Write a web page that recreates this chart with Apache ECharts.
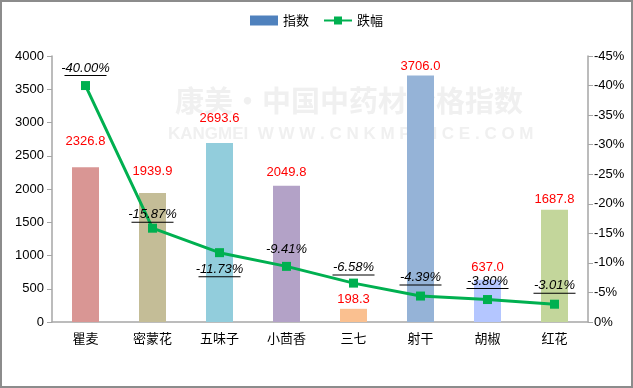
<!DOCTYPE html>
<html><head><meta charset="utf-8">
<script src="https://cdn.jsdelivr.net/npm/echarts@6/dist/echarts.min.js"></script>
<style>
html,body{margin:0;padding:0;background:#fff;}
#frame{position:absolute;left:0;top:0;width:629px;height:384px;border:2px solid #8c8c8c;}
#c{position:absolute;left:0;top:0;width:633px;height:388px;}
</style></head>
<body><div id="frame"></div><div id="c"></div>
<script>
const categories = ['瞿麦','密蒙花','五味子','小茴香','三七','射干','胡椒','红花'];
const indexValues = [2326.8, 1939.9, 2693.6, 2049.8, 198.3, 3706.0, 637.0, 1687.8];
const dropValues = [40.00, 15.87, 11.73, 9.41, 6.58, 4.39, 3.80, 3.01];
const leftTicks = {min:0, max:4000, interval:500};
const rightTicks = {min:0, max:45, interval:5};

const barColors = ['#D99694','#C4BD97','#92CDDC','#B3A2C7','#FAC090','#95B3D7','#B4C6FF','#C3D69B'];
const barLabelDist = [19,15,18,7,3,3,6,4];
const linePos = ['top','top','bottom','top','top','top','top','top'];
const lineDist = [5,1,5,4,3,6,6,6];
const lineUnderline = [true,true,true,false,true,true,true,true];
const font = '"Liberation Sans","DejaVu Sans","Noto Sans CJK SC",sans-serif';

const chart = echarts.init(document.getElementById('c'));
chart.setOption({
  animation:false,
  textStyle:{fontFamily:font},
  graphic:[
    {type:'text',left:175,top:86,style:{text:'康美·中国中药材价格指数',fill:'#f0f0f0',font:'bold 29px "Noto Sans CJK SC",sans-serif'},z:-10},
    {type:'text',left:168,top:126,style:{text:'KANGMEI  W W W . C N K M P R I C E . C O M',fill:'#f0f0f0',font:'bold 17px "Liberation Sans",sans-serif'},z:-10}
  ],
  legend:{
    top:9,left:'center',itemWidth:28,itemHeight:10,itemGap:14,
    textStyle:{fontSize:13,color:'#000',fontFamily:'"Noto Sans CJK SC",sans-serif'},
    data:[{name:'指数',icon:'rect',itemStyle:{color:'#4F81BD'}},{name:'跌幅'}]
  },
  grid:{left:52,right:45,top:56,bottom:66},
  xAxis:{
    type:'category',data:categories,
    axisLine:{lineStyle:{color:'#A6A6A6',width:1.5}},
    axisTick:{lineStyle:{color:'#A6A6A6'},length:5},
    axisLabel:{color:'#000',fontSize:13,margin:10,fontFamily:'"Noto Sans CJK SC",sans-serif'}
  },
  yAxis:[
    {type:'value',min:leftTicks.min,max:leftTicks.max,interval:leftTicks.interval,
     axisLine:{show:true,lineStyle:{color:'#A6A6A6',width:1.5}},
     axisTick:{show:true,length:5,lineStyle:{color:'#A6A6A6'}},
     splitLine:{show:false},
     axisLabel:{color:'#000',fontSize:13,margin:8,formatter:v=>String(v)}},
    {type:'value',min:rightTicks.min,max:rightTicks.max,interval:rightTicks.interval,position:'right',
     axisLine:{show:true,lineStyle:{color:'#A6A6A6',width:1.5}},
     axisTick:{show:true,length:5,lineStyle:{color:'#A6A6A6'}},
     splitLine:{show:false},
     axisLabel:{color:'#000',fontSize:13,margin:6,formatter:v=>v===0?'0%':'-'+v+'%'}}
  ],
  series:[
    {name:'指数',type:'bar',barWidth:27,
     data:indexValues.map((v,i)=>({value:v,itemStyle:{color:barColors[i]},label:{distance:barLabelDist[i]}})),
     label:{show:true,position:'top',color:'#FF0000',fontSize:13,formatter:p=>p.value.toFixed(1)}},
    {name:'跌幅',type:'line',yAxisIndex:1,symbol:'rect',symbolSize:9,
     itemStyle:{color:'#00B050'},lineStyle:{color:'#00B050',width:3},
     data:dropValues.map((v,i)=>({value:v,label:{position:linePos[i],distance:lineDist[i],
        formatter:p=>'{a|-'+p.value.toFixed(2)+'%}\n'+(lineUnderline[i]?'{u|}':'{n|}')}})),
     label:{show:true,color:'#000',fontSize:13,fontStyle:'italic',
       rich:{a:{fontStyle:'italic',fontSize:13,color:'#000',align:'center',lineHeight:14},
             u:{width:42,height:1,lineHeight:1,backgroundColor:'#000',align:'center'},
             n:{width:42,height:1,lineHeight:1,align:'center'}}}}
  ]
});
</script></body></html>
